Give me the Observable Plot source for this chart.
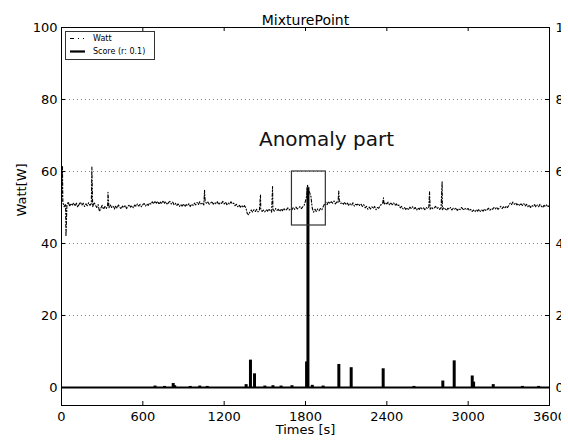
<!DOCTYPE html>
<html><head><meta charset="utf-8">
<script src="https://cdn.jsdelivr.net/npm/d3@7"></script>
<script src="https://cdn.jsdelivr.net/npm/@observablehq/plot@0.6"></script>
<style>
html,body{margin:0;padding:0;background:#fff;}
#wrap{width:561px;height:441px;overflow:hidden;position:relative;background:#fff;}
#wrap svg{max-width:none !important;width:568px;height:441px;display:block;}
</style></head><body><div id="wrap"></div>
<script>
const title = "MixturePoint";
const xLabel = "Times [s]";
const yLabel = "Watt[W]";
const xTicks = [0, 600, 1200, 1800, 2400, 3000, 3600];
const yTicks = [0, 20, 40, 60, 80, 100];
const gridLines = [20, 40, 60, 80];
const legendLabels = ["Watt", "Score (r: 0.1)"];

const wattStep = 10;
const wattBase = [
  50.5, 51.4, 50.2, 51.0, 50.6, 51.6, 50.3, 51.1, 50.7, 51.3,
  50.4, 51.2, 50.1, 50.9, 51.5, 50.6, 51.2, 50.3, 51.0, 50.5,
  51.3, 50.6, 51.1, 50.2, 51.4, 50.7, 50.0, 50.8, 48.9, 49.8,
  50.6, 49.5, 50.3, 49.7, 50.5, 49.9, 50.7, 50.0, 50.4, 49.6,
  50.5, 49.8, 50.7, 50.1, 49.6, 50.4, 50.0, 50.6, 49.7, 50.3,
  50.8, 50.1, 50.5, 49.9, 50.7, 50.3, 51.0, 50.4, 50.9, 50.2,
  50.8, 51.1, 50.4, 51.0, 50.6, 51.3, 50.9, 51.6, 51.0, 51.8,
  51.2, 51.7, 50.9, 51.5, 51.1, 51.9, 51.2, 51.6, 50.8, 51.4,
  51.7, 51.0, 51.5, 50.8, 51.2, 50.5, 51.0, 50.3, 50.9, 50.4,
  51.0, 50.2, 50.8, 50.5, 51.1, 50.3, 50.9, 50.6, 51.2, 50.7,
  51.4, 50.8, 51.6, 51.0, 51.3, 50.7, 51.8, 51.1, 51.5, 50.9,
  51.2, 51.7, 50.9, 51.4, 51.0, 51.6, 50.8, 51.3, 51.1, 51.7,
  51.0, 51.5, 50.8, 51.3, 50.9, 51.6, 51.0, 51.2, 50.5, 50.9,
  50.2, 50.7, 50.1, 50.6, 50.0, 50.5, 49.9, 48.4, 48.0, 48.7,
  49.3, 48.7, 49.4, 48.9, 49.5, 48.8, 49.2, 49.6, 48.9, 49.3,
  48.8, 49.4, 49.0, 49.6, 49.1, 48.7, 49.5, 49.0, 49.7, 49.2,
  49.5, 48.9, 49.6, 49.1, 49.8, 49.2, 49.4, 49.9, 49.3, 49.7,
  49.4, 50.0, 49.5, 50.1, 49.6, 49.9, 50.3, 49.7, 50.2, 50.6,
  51.8, 53.5, 55.0, 54.2, 53.1, 49.8, 48.7, 49.5, 48.9, 49.6,
  49.1, 49.7, 49.3, 50.2, 50.9, 51.5, 50.8, 51.7, 51.1, 51.6,
  51.2, 51.8, 51.0, 51.5, 51.3, 51.9, 51.1, 51.4, 50.9, 51.5,
  50.8, 51.2, 50.5, 51.0, 50.6, 51.3, 50.4, 50.9, 50.7, 51.1,
  50.5, 50.9, 50.3, 50.8, 49.9, 50.3, 49.5, 50.1, 49.6, 50.2,
  49.7, 50.3, 49.4, 50.0, 49.8, 50.5, 50.9, 51.3, 50.8, 51.4,
  51.0, 51.5, 50.7, 51.2, 50.8, 51.3, 50.6, 51.0, 50.4, 50.7,
  49.9, 50.3, 49.6, 50.0, 49.5, 49.9, 49.4, 50.1, 49.7, 50.2,
  49.6, 50.0, 49.3, 49.9, 49.5, 50.1, 49.6, 49.9, 49.4, 50.0,
  49.7, 50.2, 49.5, 50.1, 49.6, 49.9, 50.3, 49.7, 50.0, 49.5,
  49.9, 49.4, 50.0, 49.6, 49.2, 49.8, 49.5, 50.0, 49.3, 49.8,
  49.5, 49.9, 49.2, 49.7, 49.4, 50.0, 49.6, 49.3, 49.8, 49.5,
  49.7, 49.1, 49.5, 48.9, 49.3, 48.8, 49.4, 49.0, 49.5, 48.9,
  49.3, 49.0, 49.6, 49.1, 49.4, 49.8, 49.2, 49.7, 49.5, 50.0,
  49.6, 50.1, 49.5, 49.9, 50.3, 49.7, 50.2, 49.8, 50.4, 50.0,
  50.6, 51.2, 50.8, 51.5, 50.9, 51.3, 50.7, 51.1, 50.5, 51.0,
  50.6, 51.1, 50.4, 50.9, 50.2, 50.7, 50.0, 50.6, 50.3, 50.8,
  50.1, 50.7, 50.2, 50.9, 50.4, 50.0, 50.6, 50.2, 50.8, 50.3,
  50.5
];
// Single-sample spikes in the Watt trace: [time s, watt]
const wattSpikes = [
  [7, 61.5], [33, 42.0], [224, 61.3], [343, 54.2], [1055, 54.8],
  [1468, 53.6], [1557, 55.8], [1815, 56.2], [2045, 54.6], [2375, 52.7],
  [2715, 54.4], [2808, 57.2]
];
// Score spikes: [time s, value], on a zero baseline
const scoreSpikes = [
  [690, 0.4], [760, 0.3], [824, 1.1], [835, 0.5], [950, 0.3], [1020, 0.4],
  [1075, 0.3], [1362, 0.8], [1394, 7.6], [1424, 3.8], [1500, 0.4], [1560, 0.5],
  [1620, 0.4], [1700, 0.5], [1808, 7.1], [1818, 55.5], [1850, 0.6], [1930, 0.4],
  [2046, 6.4], [2137, 5.5], [2373, 5.2], [2600, 0.3], [2813, 1.8], [2897, 7.4],
  [3030, 3.2], [3040, 1.5], [3185, 0.8], [3400, 0.3], [3520, 0.3]
];
const scoreBaseline = [0];
const annotationText = "Anomaly part";
const annotationAt = [1955, 69];
const anomalyBox = [1700, 1950, 45, 60]; // x1, x2, y1, y2

const watt = wattBase.map((v, i) => ({t: i * wattStep, v}))
  .concat(wattSpikes.map(([t, v]) => ({t, v})))
  .sort((a, b) => a.t - b.t);
const score = scoreSpikes.map(([t, v]) => ({t, v}));

const W = 568, H = 441, mL = 61, mR = 19, mT = 27, mB = 36;
const innerW = W - mL - mR, innerH = H - mT - mB;
const font = "DejaVu Sans";
const fmt = d => String(d);

const chart = Plot.plot({
  width: W, height: H,
  marginLeft: mL, marginRight: mR, marginTop: mT, marginBottom: mB,
  style: {fontFamily: font, fontSize: "13px", background: "white", color: "black", overflow: "visible", maxWidth: "none"},
  x: {domain: [0, 3600]},
  y: {domain: [-5, 100]},
  marks: [
    Plot.ruleY(gridLines, {stroke: "#808080", strokeDasharray: "1,3", strokeWidth: 1}),
    Plot.line(watt, {x: "t", y: "v", stroke: "black", strokeWidth: 1.1, strokeDasharray: "3,2,1,2"}),
    Plot.ruleY(scoreBaseline, {stroke: "black", strokeWidth: 2.2}),
    Plot.ruleX(score, {x: "t", y1: 0, y2: "v", stroke: "black", strokeWidth: 3}),
    Plot.rect([anomalyBox], {x1: d => d[0], x2: d => d[1], y1: d => d[2], y2: d => d[3], fill: "none", stroke: "#333", strokeWidth: 1.2}),
    Plot.text([annotationText], {x: annotationAt[0], y: annotationAt[1], fontSize: 20, fill: "#111"}),
    Plot.tickX(xTicks, {x: d => d, insetTop: innerH - 4, stroke: "black"}),
    Plot.tickX(xTicks, {x: d => d, insetBottom: innerH - 4, stroke: "black"}),
    Plot.tickY(yTicks, {y: d => d, insetRight: innerW - 4, stroke: "black"}),
    Plot.tickY(yTicks, {y: d => d, insetLeft: innerW - 4, stroke: "black"}),
    Plot.frame({stroke: "black", strokeWidth: 1}),
    Plot.axisX({ticks: xTicks, tickFormat: fmt, tickSize: 0, tickPadding: 6, label: null, fontSize: 13}),
    Plot.axisY({ticks: yTicks, tickFormat: fmt, tickSize: 0, tickPadding: 4, label: null, fontSize: 13}),
    Plot.axisY({anchor: "right", ticks: yTicks, tickFormat: fmt, tickSize: 0, tickPadding: 6, label: null, fontSize: 13}),
    Plot.text([yLabel], {frameAnchor: "left", dx: -40, rotate: -90, fontSize: 13}),
    Plot.text([xLabel], {frameAnchor: "bottom", dy: 28, fontSize: 13}),
    Plot.text([title], {frameAnchor: "top", dy: -12, fontSize: 14})
  ]
});
chart.style.maxWidth = "none";

// Legend (upper left, inside the axes)
const svg = d3.select(chart);
const lg = svg.append("g").attr("font-family", font).attr("font-size", 8).attr("text-anchor", "start");
lg.append("rect").attr("x", 65.5).attr("y", 31.5).attr("width", 89).attr("height", 28)
  .attr("fill", "white").attr("stroke", "#333").attr("stroke-width", 1);
lg.append("line").attr("x1", 70).attr("x2", 84).attr("y1", 38.5).attr("y2", 38.5)
  .attr("stroke", "black").attr("stroke-width", 1).attr("stroke-dasharray", "4,4,1,4");
lg.append("line").attr("x1", 70).attr("x2", 85).attr("y1", 51.5).attr("y2", 51.5)
  .attr("stroke", "black").attr("stroke-width", 2.2);
lg.selectAll("text.lbl").data(legendLabels).join("text").attr("class", "lbl")
  .attr("x", 93).attr("y", (d, i) => 38.5 + i * 13).attr("dy", "0.35em").text(d => d);

document.getElementById("wrap").appendChild(chart);
</script></body></html>
